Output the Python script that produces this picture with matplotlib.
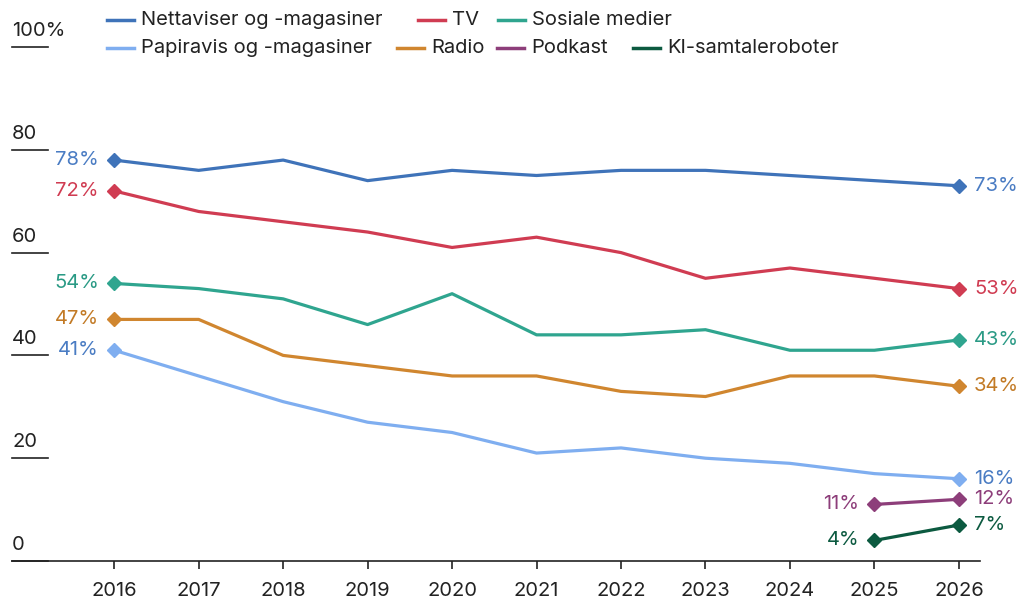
import matplotlib.pyplot as plt
import matplotlib.transforms as mtransforms

plt.rcParams['font.family'] = ['Inter', 'DejaVu Sans']

years = list(range(2016, 2027))

nettaviser = [78, 76, 78, 74, 76, 75, 76, 76, 75, 74, 73]
tv = [72, 68, 66, 64, 61, 63, 60, 55, 57, 55, 53]
sosiale = [54, 53, 51, 46, 52, 44, 44, 45, 41, 41, 43]
papiravis = [41, 36, 31, 27, 25, 21, 22, 20, 19, 17, 16]
radio = [47, 47, 40, 38, 36, 36, 33, 32, 36, 36, 34]
podkast_years = [2025, 2026]
podkast = [11, 12]
ki_years = [2025, 2026]
ki = [4, 7]

series = [
    # name, x, y, line colour, label colour
    ("Nettaviser og -magasiner", years, nettaviser, "#3f73b9", "#4a7cc3"),
    ("TV", years, tv, "#d03c52", "#d03c52"),
    ("Sosiale medier", years, sosiale, "#2fa58f", "#2a9a85"),
    ("Papiravis og -magasiner", years, papiravis, "#7faef0", "#4a7cc3"),
    ("Radio", years, radio, "#d0862f", "#c27a25"),
    ("Podkast", podkast_years, podkast, "#8d3e7a", "#8d3e7a"),
    ("KI-samtaleroboter", ki_years, ki, "#0c5a40", "#0c5a40"),
]

FS = 14.5
W, H = 1019, 600
fig = plt.figure(figsize=(W / 100, H / 100), dpi=100)
# axes in pixel coords: left 12, right 980, bottom y=561, top y=47
ax = fig.add_axes([12 / W, 1 - 561 / H, 968 / W, (561 - 47) / H])

for name, x, y, col, lcol in series:
    ax.plot(x, y, color=col, lw=2.3, solid_joinstyle='round', zorder=3)
    ax.plot([x[0], x[-1]], [y[0], y[-1]], ls='none', marker='D', ms=7.5,
            color=col, zorder=4)
    ax.annotate(f"{y[0]}%", (x[0], y[0]), xytext=(-11, 0), textcoords='offset points',
                ha='right', va='center', color=lcol, fontsize=FS)
    ax.annotate(f"{y[-1]}%", (x[-1], y[-1]), xytext=(11, 0), textcoords='offset points',
                ha='left', va='center', color=lcol, fontsize=FS)

ax.set_xlim(2014.79, 2026.25)
ax.set_ylim(0, 100)

for s in ['top', 'right', 'left']:
    ax.spines[s].set_visible(False)
ax.spines['bottom'].set_color('#222222')
ax.spines['bottom'].set_linewidth(1.2)

ax.set_yticks([])
ax.set_xticks(years)
ax.tick_params(axis='x', length=6, width=1.2, color='#222222', pad=9,
               labelsize=FS, labelcolor='#222222')

# short y tick lines with labels above
trans = mtransforms.blended_transform_factory(ax.transAxes, ax.transData)
for v in [0, 20, 40, 60, 80, 100]:
    ax.plot([0, 36 / 968], [v, v], color='#222222', lw=1.2, transform=trans,
            clip_on=False, zorder=2)
    lab = "100%" if v == 100 else str(v)
    ax.annotate(lab, (0, v), xycoords=trans, xytext=(0, 5), textcoords='offset points',
                ha='left', va='bottom', fontsize=FS, color='#222222')

# legend drawn by hand in two rows
legend_pos = [
    (107, 20), (418, 20), (498, 20),
    (107, 48), (397, 48), (497, 48), (633, 48),
]
for (px, py), (name, x, y, col, lcol) in zip(legend_pos, series):
    fx0, fx1 = px / W, (px + 27) / W
    fy = 1 - py / H
    fig.add_artist(plt.Line2D([fx0, fx1], [fy, fy], color=col, lw=2.5,
                              transform=fig.transFigure))
    fig.text((px + 34) / W, fy, name, ha='left', va='center', fontsize=FS,
             color='#222222')

fig.savefig("out.png", dpi=100)
